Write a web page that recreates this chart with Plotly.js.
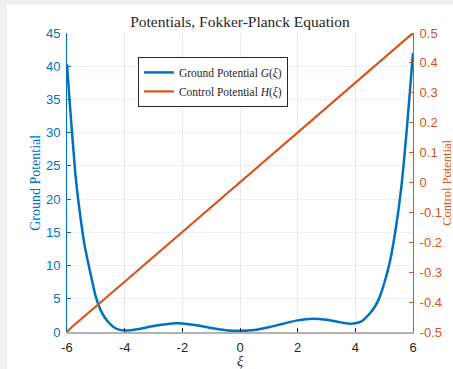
<!DOCTYPE html>
<html>
<head>
<meta charset="utf-8">
<script src="https://cdn.plot.ly/plotly-3.0.1.min.js"></script>
<style>
html,body{margin:0;padding:0;background:#f0f0f0;width:453px;height:369px;overflow:hidden;}
#plot{position:absolute;left:7px;top:5px;width:446px;height:364px;}
</style>
</head>
<body>
<div id="plot"></div>
<script>
// Ground potential G(xi)
const xiG = [-6,-5.9,-5.8,-5.7,-5.6,-5.5,-5.4,-5.2,-5.0,-4.8,-4.6,-4.4,-4.2,-4.0,-3.8,-3.5,-3.0,-2.5,-2.2,-2.0,-1.5,-1.0,-0.5,0,0.5,1.0,1.5,2.0,2.5,3.0,3.5,3.85,4.2,4.4,4.6,4.8,5.0,5.2,5.4,5.6,5.7,5.8,5.9,6.0];
const G = [40.3,34.2,28.6,23.4,19.5,16.2,13.3,9.1,5.3,3.0,1.65,0.8,0.35,0.22,0.25,0.45,0.9,1.22,1.3,1.27,1.0,0.6,0.28,0.18,0.3,0.72,1.25,1.75,2.0,1.85,1.45,1.25,1.55,2.3,3.3,4.8,7.3,10.6,15.5,22.0,26.4,31.3,36.6,42.0];
// Control potential H(xi)
const xiH = [-6,-5.85,-4,-2,0,2,4,5.85,6];
const H = [-0.5,-0.485,-0.332,-0.166,0,0.166,0.332,0.485,0.5];

const xTickVals = [-6,-4,-2,0,2,4,6];
const xTickText = ['-6','-4','-2','0','2','4','6'];
const yTickVals = [0,5,10,15,20,25,30,35,40,45];
const y2TickVals = [-0.5,-0.4,-0.3,-0.2,-0.1,0,0.1,0.2,0.3,0.4,0.5];
const y2TickText = ['-0.5','-0.4','-0.3','-0.2','-0.1','0','0.1','0.2','0.3','0.4','0.5'];

const BLUE = '#0072BD', ORANGE = '#D95319';
const SERIF = '"Liberation Serif", "DejaVu Serif", serif';
const SANS = '"Liberation Sans", Arial, sans-serif';

const traces = [
  {x: xiG, y: G, type: 'scatter', mode: 'lines', name: 'Ground Potential <i>G</i>(<i>ξ</i>)',
   line: {color: BLUE, width: 2.5, shape: 'spline', smoothing: 0.8}, yaxis: 'y'},
  {x: xiH, y: H, type: 'scatter', mode: 'lines', name: 'Control Potential <i>H</i>(<i>ξ</i>)',
   line: {color: ORANGE, width: 2.2}, yaxis: 'y2'}
];

const layout = {
  width: 446, height: 364,
  margin: {l: 59.7, r: 39.7, t: 28.3, b: 37.3, autoexpand: false},
  paper_bgcolor: '#ffffff', plot_bgcolor: '#ffffff',
  showlegend: true,
  title: {text: 'Potentials, Fokker-Planck Equation', font: {family: SERIF, size: 15.5, color: '#262626'},
          x: 0.5, xref: 'paper', xanchor: 'center', y: 0.955, yref: 'container', yanchor: 'middle'},
  xaxis: {range: [-6, 6], tickvals: xTickVals, ticktext: xTickText, ticks: 'inside', ticklen: 4,
          tickcolor: '#262626', showline: true, linecolor: '#b3b3b3', linewidth: 2, zeroline: false,
          showgrid: true, gridcolor: 'rgba(38,38,38,0.1)', tickfont: {family: SANS, size: 13, color: '#262626'},
          ticklabelstandoff: 2,
          title: {text: '<i>ξ</i>', font: {family: SERIF, size: 14, color: '#262626'}, standoff: 3}, mirror: false},
  yaxis: {range: [0, 45], tickvals: yTickVals, ticks: 'inside', ticklen: 4, tickcolor: BLUE,
          showline: true, linecolor: BLUE, linewidth: 1, zeroline: false, showgrid: true, ticklabelstandoff: 3,
          gridcolor: 'rgba(0,114,189,0.09)', tickfont: {family: SANS, size: 13, color: BLUE}},
  yaxis2: {range: [-0.5, 0.5], tickvals: y2TickVals, ticktext: y2TickText, overlaying: 'y', side: 'right',
           ticks: 'inside', ticklen: 4, tickcolor: ORANGE, showline: true, linecolor: ORANGE, linewidth: 1,
           ticklabelstandoff: 3,
           zeroline: false, showgrid: false, tickfont: {family: SANS, size: 13, color: ORANGE}},
  legend: {x: 0.205, y: 0.92, xanchor: 'left', yanchor: 'top', bgcolor: '#ffffff', bordercolor: '#262626',
           borderwidth: 1, font: {family: SERIF, size: 11.5, color: '#262626'}, tracegroupgap: 0},
  annotations: [
    {text: 'Ground Potential', xref: 'paper', yref: 'paper', x: -0.0915, y: 0.5, xanchor: 'center', yanchor: 'middle',
     textangle: -90, showarrow: false, font: {family: SERIF, size: 14, color: BLUE}},
    {text: 'Control Potential', xref: 'paper', yref: 'paper', x: 1.096, y: 0.5, xanchor: 'center', yanchor: 'middle',
     textangle: -90, showarrow: false, font: {family: SERIF, size: 12.5, color: ORANGE}}
  ]
};

Plotly.newPlot('plot', traces, layout, {displayModeBar: false, staticPlot: true});
</script>
</body>
</html>
